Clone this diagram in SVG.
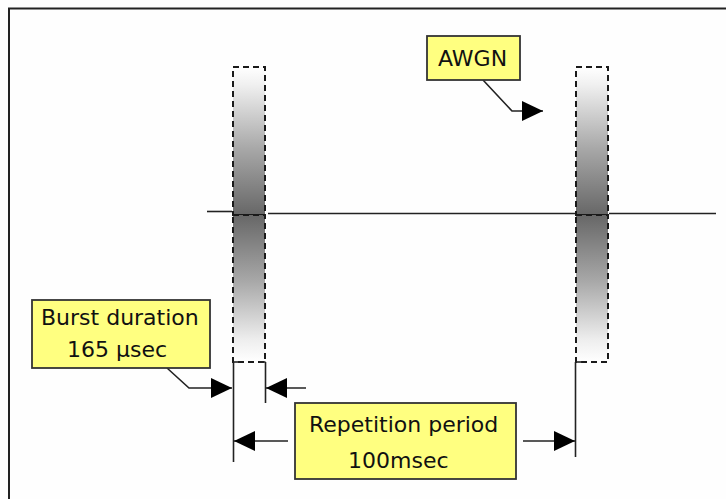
<svg xmlns="http://www.w3.org/2000/svg" width="726" height="499" viewBox="0 0 726 499">
<style>
.frame{fill:none;stroke:#222;stroke-width:2}
.line{fill:none;stroke:#222;stroke-width:1.6}
.dash{stroke:#1a1a1a;stroke-width:2;stroke-dasharray:6 4}
.box{fill:#FFFF80;stroke:#333;stroke-width:1.8}
.lbl{font-family:"DejaVu Sans",Verdana,sans-serif;font-size:22px;fill:#111}
</style>
<defs>
<linearGradient id="gTop" x1="0" y1="0" x2="0" y2="1">
<stop offset="0" stop-color="#ffffff"/>
<stop offset="0.12" stop-color="#f0f0f0"/>
<stop offset="0.55" stop-color="#a8a8a8"/>
<stop offset="1" stop-color="#676767"/>
</linearGradient>
<linearGradient id="gBot" x1="0" y1="0" x2="0" y2="1">
<stop offset="0" stop-color="#676767"/>
<stop offset="0.45" stop-color="#a8a8a8"/>
<stop offset="0.85" stop-color="#eeeeee"/>
<stop offset="1" stop-color="#ffffff"/>
</linearGradient>
<marker id="ah" markerUnits="userSpaceOnUse" markerWidth="21" markerHeight="20" refX="21" refY="10" orient="auto" viewBox="0 0 21 20">
<path d="M0,0 L21,10 L0,20 Z" fill="#000"/>
</marker>
</defs>
<rect x="0" y="0" width="726" height="499" fill="#fefefe"/>
<path class="frame" d="M9,499 V8.5 H726"/>

<g id="bar1">
<rect x="233" y="67" width="32" height="148" fill="url(#gTop)" class="dash"/>
<rect x="233" y="215" width="32" height="147" fill="url(#gBot)" class="dash"/>
</g>
<g id="bar2">
<rect x="576" y="67" width="32" height="148" fill="url(#gTop)" class="dash"/>
<rect x="576" y="215" width="32" height="147" fill="url(#gBot)" class="dash"/>
</g>

<g id="connectors">
<line class="line" x1="207" y1="211.5" x2="232" y2="211.5"/>
<line class="line" x1="268" y1="213.5" x2="575" y2="213.5"/>
<line class="line" x1="609" y1="213.5" x2="716" y2="213.5"/>
<line class="line" x1="233.5" y1="362" x2="233.5" y2="462"/>
<line class="line" x1="240" y1="362" x2="233.5" y2="362"/>
<line class="line" x1="265.5" y1="362" x2="265.5" y2="403"/>
<line class="line" x1="259" y1="362" x2="265.5" y2="362"/>
<line class="line" x1="575.5" y1="362" x2="575.5" y2="457"/>
<line class="line" x1="582" y1="362" x2="575.5" y2="362"/>
<polyline class="line" points="483,80 512,111 543,111" marker-end="url(#ah)"/>
<polyline class="line" points="167,368 189,388 232,388" marker-end="url(#ah)"/>
<line class="line" x1="306" y1="388" x2="266" y2="388" marker-end="url(#ah)"/>
<line class="line" x1="288" y1="441" x2="234" y2="441" marker-end="url(#ah)"/>
<line class="line" x1="523" y1="441" x2="575" y2="441" marker-end="url(#ah)"/>
</g>

<g id="awgn">
<rect class="box" x="427" y="36" width="93" height="44"/>
<text class="lbl" x="438" y="66">AWGN</text>
</g>
<g id="burst">
<rect class="box" x="32" y="300" width="178" height="68"/>
<text class="lbl" x="41" y="325">Burst duration</text>
<text class="lbl" x="67" y="357">165 µsec</text>
</g>
<g id="repetition">
<rect class="box" x="295" y="403" width="221" height="76"/>
<text class="lbl" x="309" y="432">Repetition period</text>
<text class="lbl" x="348" y="468">100msec</text>
</g>
</svg>
